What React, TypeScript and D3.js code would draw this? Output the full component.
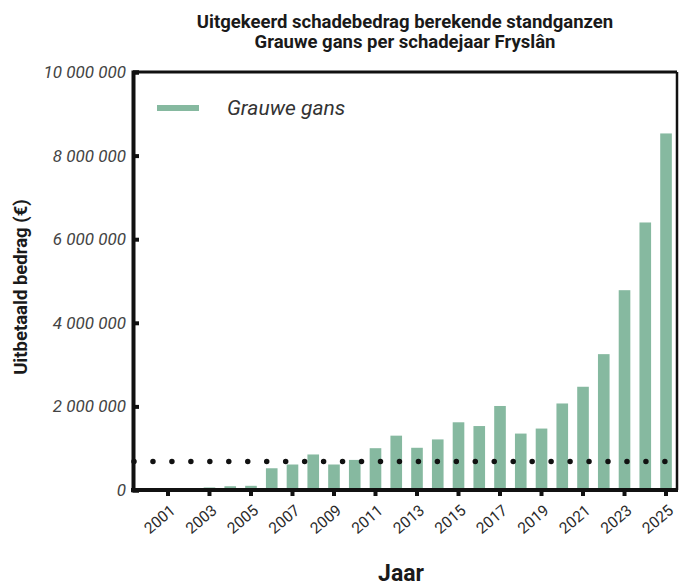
import { useEffect, useRef } from "react";
import * as d3 from "d3";

const years = [
    "2001", "2002", "2003", "2004", "2005", "2006", "2007", "2008", "2009", "2010",
    "2011", "2012", "2013", "2014", "2015", "2016", "2017", "2018", "2019", "2020",
    "2021", "2022", "2023", "2024", "2025",
];
const grauweGans = [
    0, 40000, 60000, 90000, 100000, 520000, 610000, 850000, 610000, 720000,
    1000000, 1300000, 1010000, 1210000, 1620000, 1530000, 2010000, 1350000, 1470000, 2070000,
    2470000, 3250000, 4780000, 6400000, 8530000,
];
const yTicks = [0, 2000000, 4000000, 6000000, 8000000, 10000000];
const xTickLabels = ["2001", "2003", "2005", "2007", "2009", "2011", "2013", "2015", "2017", "2019", "2021", "2023", "2025"];
const threshold = 680000;
const seriesName = "Grauwe gans";
const titleLines = ["Uitgekeerd schadebedrag berekende standganzen", "Grauwe gans per schadejaar Fryslân"];

const W = 679;
const H = 587;
const FONT = "Roboto, 'Liberation Sans', sans-serif";
const GREEN = "#86b9a0";

export default function App() {
    const svgRef = useRef<SVGSVGElement>(null);

    useEffect(() => {
        document.body.style.margin = "0";
        const svg = d3.select(svgRef.current);
        svg.selectAll("*").remove();

        const margin = { top: 72, right: 2, bottom: 97, left: 133 };
        const width = W - margin.left - margin.right;
        const height = H - margin.top - margin.bottom;
        const data = years.map((y, i) => ({ year: y, value: grauweGans[i] }));

        const g = svg.append("g").attr("transform", `translate(${margin.left},${margin.top})`);

        const x = d3.scaleBand()
            .domain(years)
            .range([24.6, width - 0.6])
            .paddingInner(0.44)
            .paddingOuter(0.22);

        const y = d3.scaleLinear().domain([0, 10000000]).range([height, 0]);

        // Title
        titleLines.forEach((t, i) => {
            svg.append("text")
                .attr("x", margin.left + width / 2)
                .attr("y", 28 + i * 20)
                .attr("text-anchor", "middle")
                .style("font-family", FONT)
                .style("font-weight", "bold")
                .style("font-size", "18.5px")
                .style("fill", "#1a1a1a")
                .text(t);
        });

        // Bars
        g.selectAll("rect.bar")
            .data(data)
            .enter()
            .append("rect")
            .attr("class", "bar")
            .attr("x", d => x(d.year) || 0)
            .attr("y", d => y(d.value))
            .attr("width", x.bandwidth())
            .attr("height", d => height - y(d.value))
            .attr("fill", GREEN);

        // Dotted threshold line
        g.append("line")
            .attr("x1", 1)
            .attr("x2", x("2025")! + x.bandwidth() / 2 + 1)
            .attr("y1", y(threshold))
            .attr("y2", y(threshold))
            .attr("stroke", "#111")
            .attr("stroke-width", 5.5)
            .attr("stroke-linecap", "round")
            .attr("stroke-dasharray", "0 18.96");

        // Frame top / right
        g.append("line").attr("x1", 0).attr("x2", width).attr("y1", 0).attr("y2", 0)
            .attr("stroke", "#111").attr("stroke-width", 3);
        g.append("line").attr("x1", width).attr("x2", width).attr("y1", 0).attr("y2", height)
            .attr("stroke", "#111").attr("stroke-width", 2.5);

        // Y axis (ticks inward)
        const yAxis = g.append("g")
            .call(d3.axisLeft(y).tickValues(yTicks).tickSize(-6).tickPadding(7)
                .tickFormat(d => d3.format(",")(d as number).replace(/,/g, " ")));
        yAxis.select(".domain").attr("stroke", "#111").attr("stroke-width", 4);
        yAxis.selectAll(".tick line").attr("stroke", "#111").attr("stroke-width", 4);
        yAxis.selectAll("text")
            .style("font-family", FONT)
            .style("font-style", "italic")
            .style("font-size", "17px")
            .style("fill", "#444");

        // X axis
        const xAxis = g.append("g")
            .attr("transform", `translate(0,${height})`)
            .call(d3.axisBottom(x).tickValues(xTickLabels).tickSize(6).tickSizeOuter(0));
        xAxis.select(".domain").attr("stroke", "#111").attr("stroke-width", 4)
            .attr("d", `M-2,0H${width + 1}`);
        xAxis.selectAll(".tick line").attr("stroke", "#111").attr("stroke-width", 4);
        xAxis.selectAll("text")
            .attr("x", 0)
            .attr("y", 0)
            .attr("dy", "0.35em")
            .attr("transform", "translate(5,18) rotate(-40)")
            .attr("text-anchor", "end")
            .style("font-family", FONT)
            .style("font-size", "15.5px")
            .style("fill", "#2a2a2a");

        // Axis titles
        svg.append("text")
            .attr("transform", `translate(27,287) rotate(-90)`)
            .attr("text-anchor", "middle")
            .style("font-family", FONT)
            .style("font-weight", "bold")
            .style("font-size", "18.5px")
            .style("fill", "#1a1a1a")
            .text("Uitbetaald bedrag (€)");

        svg.append("text")
            .attr("x", 401)
            .attr("y", 581)
            .attr("text-anchor", "middle")
            .style("font-family", FONT)
            .style("font-weight", "bold")
            .style("font-size", "23px")
            .style("fill", "#1a1a1a")
            .text("Jaar");

        // Legend
        g.append("line")
            .attr("x1", 24).attr("x2", 66)
            .attr("y1", 36).attr("y2", 36)
            .attr("stroke", GREEN)
            .attr("stroke-width", 6);
        g.append("text")
            .attr("x", 94)
            .attr("y", 43)
            .style("font-family", FONT)
            .style("font-style", "italic")
            .style("font-size", "21px")
            .style("fill", "#333")
            .text(seriesName);
    }, []);

    return <svg ref={svgRef} width={W} height={H} style={{ display: "block", background: "#fff" }} />;
}
